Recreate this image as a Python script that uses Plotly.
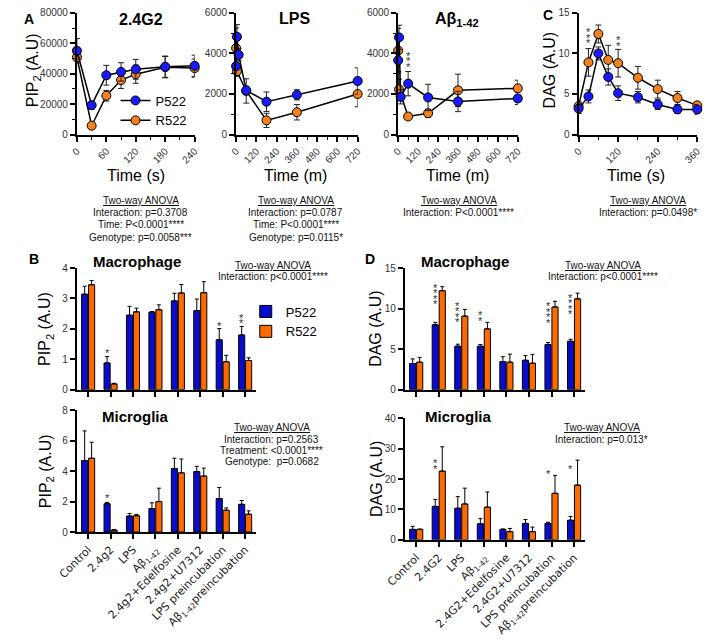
import plotly.graph_objects as go

W, H = 709, 644
def PX(x): return x / W
def PY(y): return 1 - y / H

BLUE_M, ORANGE_M = "#1a1aff", "#f5801e"
BLUE_B, ORANGE_B = "#0b0bd0", "#ff6a00"

# ---------------- Panel A : PIP2 time courses ----------------
t_24g2 = [0, 30, 60, 90, 120, 180, 240]
a1_p522 = [55100, 19300, 39000, 41200, 42900, 44600, 45200]
a1_p522_err = [8000, 2500, 6500, 6000, 6500, 7000, 7000]
a1_r522 = [50800, 5800, 25500, 35800, 39700, 44300, 43700]
a1_r522_err = [3000, 1500, 3500, 5500, 6000, 7000, 6000]

t_lps_p = [0, 5, 15, 60, 180, 360, 720]
a2_p522 = [3370, 4820, 3930, 2180, 1620, 1960, 2640]
a2_p522_err = [500, 600, 300, 200, 480, 250, 650]
t_lps_r = [0, 5, 60, 180, 360, 720]
a2_r522 = [4260, 3120, 2150, 700, 1100, 2000]
a2_r522_err = [1000, 200, 600, 350, 380, 630]

t_ab_p = [0, 5, 15, 60, 180, 360, 720]
a3_p522 = [3660, 4790, 1860, 2510, 1830, 1630, 1780]
a3_p522_err = [550, 600, 350, 600, 650, 500, 300]
t_ab_r = [0, 5, 60, 180, 360, 720]
a3_r522 = [4140, 2230, 890, 1050, 2180, 2280]
a3_r522_err = [1100, 500, 150, 200, 800, 400]

# ---------------- Panel C : DAG time course ----------------
t_c = [0, 30, 60, 90, 120, 180, 240, 300, 360]
c_p522 = [3.2, 4.7, 10.0, 7.1, 5.1, 4.6, 3.7, 3.1, 3.1]
c_p522_err = [0.6, 0.8, 0.8, 1.0, 0.9, 0.7, 0.6, 0.5, 0.6]
c_r522 = [3.5, 8.9, 12.4, 9.2, 8.8, 7.0, 5.6, 4.5, 3.6]
c_r522_err = [0.5, 1.7, 1.1, 1.8, 1.7, 1.4, 1.1, 0.8, 0.4]

# ---------------- Panels B / D : bars ----------------
cats_B = ["Control", "2.4g2", "LPS", "Aβ<sub>1-42</sub>", "2.4g2+Edelfosine",
          "2.4g2+U7312", "LPS preincubation", "Aβ<sub>1-42</sub>preincubation"]
cats_D = ["Control", "2.4G2", "LPS", "Aβ<sub>1-42</sub>", "2.4G2+Edelfosine",
          "2.4G2+U7312", "LPS preincubation", "Aβ<sub>1-42</sub>preincubation"]

bmac_p522 = [3.14, 0.88, 2.45, 2.55, 2.92, 2.60, 1.64, 1.80]
bmac_p522_err = [0.26, 0.21, 0.29, 0.02, 0.25, 0.38, 0.37, 0.28]
bmac_r522 = [3.45, 0.19, 2.56, 2.63, 3.18, 3.19, 0.92, 0.96]
bmac_r522_err = [0.14, 0.02, 0.12, 0.16, 0.28, 0.36, 0.21, 0.09]

bmic_p522 = [4.70, 1.86, 1.05, 1.54, 4.17, 3.97, 2.20, 1.82]
bmic_p522_err = [1.95, 0.09, 0.17, 0.38, 0.68, 0.35, 0.73, 0.25]
bmic_r522 = [4.85, 0.13, 1.07, 2.00, 3.89, 3.68, 1.43, 1.17]
bmic_r522_err = [1.05, 0.02, 0.08, 0.88, 0.91, 0.52, 0.15, 0.22]

dmac_p522 = [3.23, 8.0, 5.36, 5.36, 3.47, 3.63, 5.56, 5.97]
dmac_p522_err = [0.57, 0.3, 0.25, 0.22, 0.6, 0.57, 0.25, 0.25]
dmac_r522 = [3.39, 12.2, 9.07, 7.5, 3.39, 3.27, 10.2, 11.2]
dmac_r522_err = [0.6, 0.5, 0.83, 0.8, 1.0, 1.08, 0.7, 0.7]

dmic_p522 = [3.44, 11.0, 10.4, 5.27, 3.44, 5.4, 5.4, 6.45]
dmic_p522_err = [1.0, 2.3, 3.8, 1.7, 0.15, 1.3, 0.4, 1.25]
dmic_r522 = [3.44, 22.6, 11.8, 10.75, 2.7, 2.7, 15.3, 18.0]
dmic_r522_err = [0.12, 8.0, 5.2, 5.0, 1.06, 1.5, 5.9, 8.2]

# significance stars: (x, y of lowest star, number of stars)
stars_A3 = [(60, 3480, 3)]
stars_C = [(30, 11.6, 3), (120, 11.3, 2)]
stars_Bmac = [(1, 1.30, 1), (6, 2.18, 1), (7, 2.28, 2)]
stars_Bmic = [(1, 2.46, 1)]
stars_Dmac = [(1, 10.9, 4), (2, 8.7, 4), (3, 8.9, 2), (6, 8.6, 4), (7, 9.7, 4)]
stars_Dmic = [(1, 24.4, 2), (6, 22.8, 1), (7, 24.2, 1)]

fig = go.Figure()

def line_tr(x, y, err, color, name, ax, show):
    fig.add_trace(go.Scatter(
        x=x, y=y, mode="lines+markers", name=name, showlegend=show, legend="legend",
        line=dict(color="black", width=1.5),
        marker=dict(size=9, color=color, line=dict(color="black", width=1)),
        error_y=dict(type="data", array=err, visible=True, color="#222", thickness=1, width=3),
        cliponaxis=False, xaxis="x" + ax, yaxis="y" + ax))

line_tr(t_24g2, a1_r522, a1_r522_err, ORANGE_M, "R522", "", True)
line_tr(t_24g2, a1_p522, a1_p522_err, BLUE_M, "P522", "", True)
line_tr(t_lps_r, a2_r522, a2_r522_err, ORANGE_M, "R522", "2", False)
line_tr(t_lps_p, a2_p522, a2_p522_err, BLUE_M, "P522", "2", False)
line_tr(t_ab_r, a3_r522, a3_r522_err, ORANGE_M, "R522", "3", False)
line_tr(t_ab_p, a3_p522, a3_p522_err, BLUE_M, "P522", "3", False)
line_tr(t_c, c_r522, c_r522_err, ORANGE_M, "R522", "4", False)
line_tr(t_c, c_p522, c_p522_err, BLUE_M, "P522", "4", False)

idx = list(range(8))
def bar_tr(y, err, color, name, ax, show):
    fig.add_trace(go.Bar(
        x=idx, y=y, name=name, showlegend=show, legend="legend2",
        marker=dict(color=color, line=dict(color="black", width=1)),
        error_y=dict(type="data", array=err, arrayminus=[0] * len(err), symmetric=False,
                     visible=True, color="black", thickness=1, width=2),
        xaxis="x" + ax, yaxis="y" + ax))

bar_tr(bmac_p522, bmac_p522_err, BLUE_B, "P522", "5", True)
bar_tr(bmac_r522, bmac_r522_err, ORANGE_B, "R522", "5", True)
bar_tr(bmic_p522, bmic_p522_err, BLUE_B, "P522", "6", False)
bar_tr(bmic_r522, bmic_r522_err, ORANGE_B, "R522", "6", False)
bar_tr(dmac_p522, dmac_p522_err, BLUE_B, "P522", "7", False)
bar_tr(dmac_r522, dmac_r522_err, ORANGE_B, "R522", "7", False)
bar_tr(dmic_p522, dmic_p522_err, BLUE_B, "P522", "8", False)
bar_tr(dmic_r522, dmic_r522_err, ORANGE_B, "R522", "8", False)

FONT = "Liberation Sans, Arial, sans-serif"
TICKF = dict(family=FONT, size=10, color="#333")

def axis_common(**kw):
    d = dict(showline=True, linecolor="black", linewidth=2, ticks="outside", ticklen=5,
             tickwidth=1.5, tickcolor="black", showgrid=False, zeroline=False,
             tickfont=TICKF, fixedrange=True)
    d.update(kw)
    return d

def dom_x(a, b): return [PX(a), PX(b)]
def dom_y(top, bot): return [PY(bot), PY(top)]

lay = dict(width=W, height=H, autosize=False, margin=dict(l=0, r=0, t=0, b=0),
           paper_bgcolor="white", plot_bgcolor="white", barmode="group",
           bargap=0.38, bargroupgap=0.12, font=dict(family=FONT, color="black"))

mn = lambda dt: dict(ticks="outside", ticklen=3, tickwidth=1.2, tickcolor="black", dtick=dt, tick0=0)
# Panel A
lay["xaxis"] = axis_common(domain=dom_x(59, 181), anchor="y", range=[0, 240],
                           tickvals=[0, 60, 120, 180, 240], tickangle=-45, minor=mn(30))
lay["yaxis"] = axis_common(domain=dom_y(7, 131), anchor="x", range=[0, 80000],
                           tickvals=[0, 20000, 40000, 60000, 80000], tickformat="d", minor=mn(10000))
lay["xaxis2"] = axis_common(domain=dom_x(224, 350), anchor="y2", range=[0, 720],
                            tickvals=list(range(0, 721, 120)), tickangle=-45, minor=mn(60))
lay["yaxis2"] = axis_common(domain=dom_y(7, 131), anchor="x2", range=[0, 6000],
                            tickvals=[0, 2000, 4000, 6000], tickformat="d", minor=mn(1000))
lay["xaxis3"] = axis_common(domain=dom_x(392, 516), anchor="y3", range=[0, 720],
                            tickvals=list(range(0, 721, 120)), tickangle=-45, minor=mn(60))
lay["yaxis3"] = axis_common(domain=dom_y(7, 131), anchor="x3", range=[0, 6000],
                            tickvals=[0, 2000, 4000, 6000], tickformat="d", minor=mn(1000))
# Panel C
lay["xaxis4"] = axis_common(domain=dom_x(579, 702), anchor="y4", range=[0, 360],
                            tickvals=[0, 120, 240, 360], tickangle=-45, minor=mn(60))
lay["yaxis4"] = axis_common(domain=dom_y(7, 131), anchor="x4", range=[0, 15],
                            tickvals=[0, 5, 10, 15])
# Panel B / D bars
XB = dict(range=[-0.5, 7.5], tickvals=idx)
XTF = dict(family="DejaVu Sans, sans-serif", size=11, color="#222")
lay["xaxis5"] = axis_common(domain=dom_x(59, 245), anchor="y5", showticklabels=False, **XB)
lay["yaxis5"] = axis_common(domain=dom_y(267, 391), anchor="x5", range=[0, 4], tickvals=[0, 1, 2, 3, 4])
lay["xaxis6"] = axis_common(domain=dom_x(59, 245), anchor="y6", ticktext=cats_B, tickangle=-45,
                            tickfont=XTF, **XB)
lay["yaxis6"] = axis_common(domain=dom_y(412, 536), anchor="x6", range=[0, 8], tickvals=[0, 2, 4, 6, 8])
lay["xaxis7"] = axis_common(domain=dom_x(399, 586), anchor="y7", showticklabels=False, **XB)
lay["yaxis7"] = axis_common(domain=dom_y(267, 391), anchor="x7", range=[0, 15], tickvals=[0, 5, 10, 15])
lay["xaxis8"] = axis_common(domain=dom_x(399, 586), anchor="y8", ticktext=cats_D, tickangle=-45,
                            tickfont=XTF, **XB)
lay["yaxis8"] = axis_common(domain=dom_y(420, 544), anchor="x8", range=[0, 40], tickvals=[0, 10, 20, 30, 40])

lay["legend"] = dict(x=PX(99), y=PY(81), xanchor="left", yanchor="top", font=dict(size=13, family=FONT),
                     bgcolor="rgba(0,0,0,0)", itemwidth=30, tracegroupgap=0, traceorder="reversed")
lay["legend2"] = dict(x=PX(234), y=PY(296), xanchor="left", yanchor="top", font=dict(size=13, family=FONT),
                      bgcolor="rgba(0,0,0,0)", itemwidth=30, tracegroupgap=0)
fig.update_layout(**lay)

ann = []
def txt(x, y, s, size=12, bold=False, angle=0, color="black", family=FONT, xanchor="center"):
    if bold:
        s = "<b>" + s + "</b>"
    ann.append(dict(x=PX(x), y=PY(y), xref="paper", yref="paper", text=s, showarrow=False,
                    font=dict(size=size, color=color, family=family), textangle=angle,
                    xanchor=xanchor, yanchor="middle"))

# panel letters
txt(9, 13, "A", 14, True); txt(547, 9, "C", 14, True)
txt(14, 258, "B", 14, True); txt(363, 258, "D", 14, True)
# titles
txt(125, 14, "2.4G2", 16, True); txt(285, 13, "LPS", 16, True)
txt(453, 14, "Aβ<sub>1-42</sub>", 16, True)
txt(121, 260, "Macrophage", 15, True); txt(461, 260, "Macrophage", 15, True)
txt(120, 418, "Microglia", 15, True); txt(455, 418, "Microglia", 15, True)
# axis titles
for xc, lab in [(120, "Time (s)"), (286, "Time (m)"), (454, "Time (m)"), (639, "Time (s)")]:
    txt(xc, 173, lab, 16)
txt(14, 66, "PIP<sub>2</sub> (A.U)", 16, angle=-90)
txt(549, 66, "DAG (A.U)", 16, angle=-90)
txt(27, 329, "PIP<sub>2</sub> (A.U)", 16, angle=-90)
txt(27, 474, "PIP<sub>2</sub> (A.U)", 16, angle=-90)
txt(369, 329, "DAG (A.U)", 16, angle=-90)
txt(369, 482, "DAG (A.U)", 16, angle=-90)

# ANOVA texts
AF = "Liberation Sans, Arial, sans-serif"
def anova(xc, ys, lines):
    for y, s in zip(ys, lines):
        txt(xc, y, s, 10, family=AF, color="#111")
row1 = [198, 210.5, 223, 235.5]
anova(125, row1, ["<u>Two-way ANOVA</u>", "Interaction: p=0.3708", "Time: P&lt;0.0001****", "Genotype: p=0.0058***"])
anova(286, row1, ["<u>Two-way ANOVA</u>", "Interaction: p=0.0787", "Time: P&lt;0.0001****", "Genotype: p=0.0115*"])
anova(455, row1, ["<u>Two-way ANOVA</u>", "Interaction: P&lt;0.0001****"])
anova(651, row1, ["<u>Two-way ANOVA</u>", "Interaction: p=0.0498*"])
anova(262, [264, 276], ["<u>Two-way ANOVA</u>", "Interaction: p&lt;0.0001****"])
anova(604, [264, 276], ["<u>Two-way ANOVA</u>", "Interaction: p&lt;0.0001****"])
anova(261, [430, 441.5, 453, 464.5], ["<u>Two-way ANOVA</u>", "Interaction: p=0.2563",
                                     "Treatment: &lt;0.0001****", "Genotype:  p=0.0682"])
anova(603, [430, 441.5], ["<u>Two-way ANOVA</u>", "Interaction: p=0.013*"])

# stars
boff = (1 - 0.38) / 4
def stars(lst, ax, bar):
    for x, yb, n in lst:
        xx = x - boff if bar else x
        for k in range(n):
            ann.append(dict(x=xx, y=yb, xref="x" + ax, yref="y" + ax, text="*", showarrow=False,
                            font=dict(size=11, color="#333", family=FONT),
                            xanchor="center", yanchor="middle", yshift=k * 5.5 - 3))
stars(stars_A3, "3", False)
stars(stars_C, "4", False)
stars(stars_Bmac, "5", True)
stars(stars_Bmic, "6", True)
stars(stars_Dmac, "7", True)
stars(stars_Dmic, "8", True)

fig.update_layout(annotations=ann)
fig.write_html("out.html", config={"displayModeBar": False},
               post_script="document.body.style.margin='0px';document.body.style.padding='0px';")
